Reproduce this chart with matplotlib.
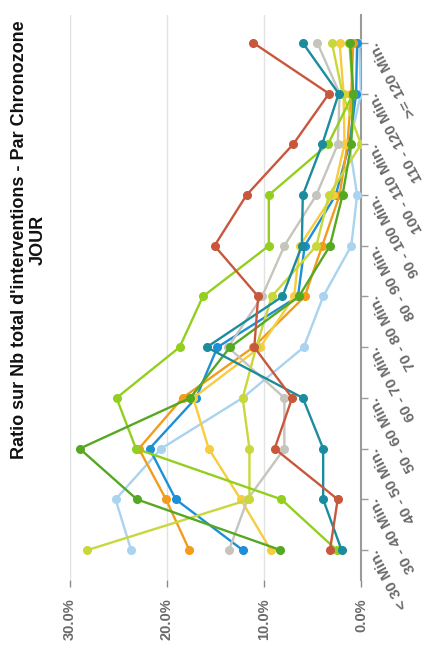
import matplotlib
matplotlib.use("Agg")
import matplotlib.pyplot as plt

plt.rcParams['font.family'] = ['Liberation Sans', 'DejaVu Sans']

categories = ["< 30 Min.", "30 - 40 Min.", "40 - 50 Min.", "50 - 60 Min.", "60 - 70 Min.",
              "70 - 80 Min.", "80 - 90 Min.", "90 - 100 Min.", "100 - 110 Min.",
              "110 - 120 Min.", ">= 120 Min."]

# ratio values in percent, one list per series
red = [3.2, 2.4, 8.9, 7.1, 11.0, 10.6, 15.1, 11.8, 7.0, 3.3, 11.1]
teal = [2.0, 3.9, 3.9, 6.0, 15.9, 8.1, 6.1, 6.0, 4.0, 2.3, 6.0]
light_blue = [23.7, 25.3, 20.6, 12.2, 5.9, 3.9, 1.0, 0.4, 1.2, 0.0, 0.2]
blue = [12.2, 19.1, 21.8, 17.0, 14.8, 6.5, 5.8, 2.6, 1.2, 0.5, 0.4]
orange = [17.7, 20.1, 22.9, 18.4, 11.1, 5.8, 4.0, 2.2, 1.4, 1.0, 0.8]
yellow = [9.3, 12.4, 15.7, 17.3, 10.4, 6.9, 6.3, 2.9, 1.7, 1.8, 2.2]
yellow_green = [28.2, 11.5, 11.5, 12.2, 10.8, 9.2, 4.6, 3.3, 0.0, 1.9, 3.0]
light_green = [2.5, 8.2, 23.2, 25.2, 18.7, 16.3, 9.5, 9.5, 3.4, 0.8, 1.2]
dark_green = [8.3, 23.1, 29.0, 17.6, 13.5, 6.4, 3.2, 1.9, 1.0, 0.8, 1.1]
gray = [13.6, 11.7, 7.9, 7.9, 13.7, 10.2, 7.9, 4.6, 2.4, 2.2, 4.5]

series = [
    (light_blue, '#a9d3ee'),
    (blue, '#1d8fd6'),
    (orange, '#f39c1c'),
    (yellow, '#f6cd3e'),
    (gray, '#c5c5bd'),
    (yellow_green, '#c8d83b'),
    (light_green, '#92cf1f'),
    (dark_green, '#55a822'),
    (teal, '#1b8c9e'),
    (red, '#c9573b'),
]

W, H = 430, 649
fig = plt.figure(figsize=(W / 100, H / 100), dpi=100)
# value axis runs horizontally (30% left, 0% right), categories run bottom to top
ax = fig.add_axes([69.5 / W, (H - 580) / H, 291.5 / W, 565 / H])

ypos = list(range(len(categories)))
for vals, color in series:
    ax.plot(vals, ypos, color=color, lw=1.7, marker='o', ms=5.5, mec=color, mfc=color,
            solid_capstyle='round', zorder=3)

ax.set_xlim(30.05, 0)
ax.set_ylim(-0.59, 10.55)

for s in ['top', 'left', 'bottom']:
    ax.spines[s].set_visible(False)
ax.spines['right'].set_color('#9a9a9a')
ax.spines['right'].set_linewidth(1.5)

ax.set_xticks([30, 20, 10, 0])
ax.set_xticklabels(['30.0%', '20.0%', '10.0%', '0.0%'], rotation=90, va='top', ha='center',
                   fontsize=10.5, fontweight='bold', color='#6a6a6a')
ax.tick_params(axis='x', direction='out', length=5, width=1, color='#8a8a8a', pad=8)
ax.grid(axis='x', color='#e2e2e2', lw=1, zorder=0)

ax.yaxis.tick_right()
ax.set_yticks(ypos)
ax.set_yticklabels(categories, rotation=118, rotation_mode='anchor', ha='right', va='center',
                   fontsize=11, fontweight='bold', color='#6a6a6a')
ax.tick_params(axis='y', direction='out', length=5, width=1, color='#9a9a9a', pad=4)

fig.text(29 / W, 1 - 240 / H, "Ratio sur Nb total d'interventions - Par Chronozone\nJOUR",
         rotation=90, ha='center', va='center', multialignment='center',
         fontsize=13, fontweight='bold', color='#111111', linespacing=1.1)

fig.savefig('out.png', dpi=100)
